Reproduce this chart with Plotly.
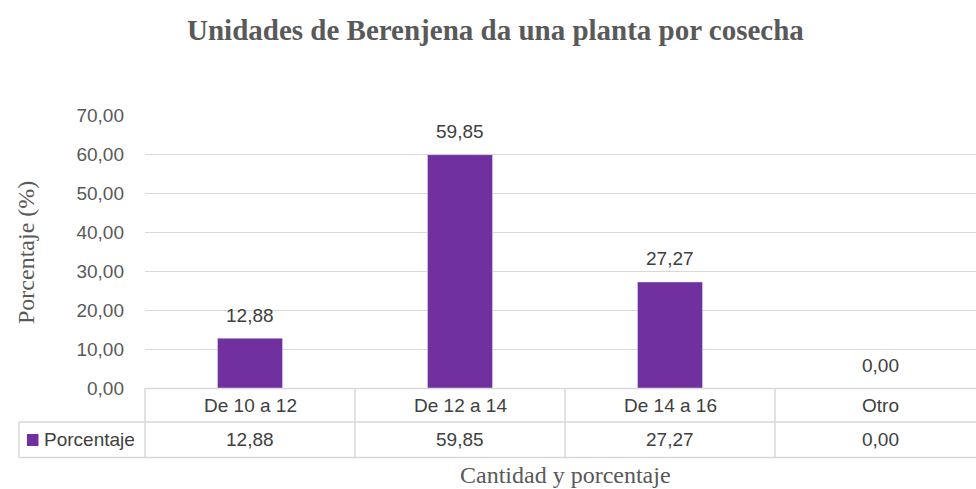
import plotly.graph_objects as go

categories = ["De 10 a 12", "De 12 a 14", "De 14 a 16", "Otro"]
values = [12.88, 59.85, 27.27, 0.00]
series_name = "Porcentaje"
title_text = "Unidades de Berenjena da una planta por cosecha"
y_title = "Porcentaje (%)"
x_title = "Cantidad y porcentaje"

W, H = 976, 489
BAR_COLOR = "#7030A0"
GRID = "#D9D9D9"
TXT = "#595959"
DARK = "#404040"
SANS = "Liberation Sans, Arial, sans-serif"
SERIF = "Liberation Serif, Times New Roman, serif"


def px(x):
    return x / W


def py(y):
    return 1 - y / H


def fmt(v):
    return f"{v:.2f}".replace(".", ",")


left, right, top, bottom = 145, 976, 115, 388.5
cat_w = 210  # category width; the chart runs past the right edge of the window
row1, row2 = 422, 457.5
tleft = 19

fig = go.Figure()
fig.add_trace(go.Bar(
    x=categories, y=values, name=series_name,
    marker_color=BAR_COLOR, width=0.31, showlegend=False,
    hoverinfo="x+y",
))

shapes = []
line = dict(color=GRID, width=1.5)
shapes.append(dict(type="line", xref="paper", yref="paper", x0=px(left), x1=px(right), y0=py(bottom), y1=py(bottom), line=line))
shapes.append(dict(type="line", xref="paper", yref="paper", x0=px(tleft), x1=px(right), y0=py(row1), y1=py(row1), line=line))
shapes.append(dict(type="line", xref="paper", yref="paper", x0=px(tleft), x1=px(right), y0=py(row2), y1=py(row2), line=line))
shapes.append(dict(type="line", xref="paper", yref="paper", x0=px(left), x1=px(left), y0=py(bottom), y1=py(row2), line=line))
shapes.append(dict(type="line", xref="paper", yref="paper", x0=px(tleft), x1=px(tleft), y0=py(row1), y1=py(row2), line=line))
for i in range(1, len(categories)):
    shapes.append(dict(type="line", xref="x", yref="paper", x0=i - 0.5, x1=i - 0.5, y0=py(bottom), y1=py(row2), line=line))
shapes.append(dict(type="rect", xref="paper", yref="paper", x0=px(27), x1=px(38.5), y0=py(446), y1=py(434),
                   fillcolor=BAR_COLOR, line=dict(width=0)))

lab_font = dict(family=SANS, size=19, color=DARK)
annotations = []
for c, v in zip(categories, values):
    annotations.append(dict(x=c, y=v, xref="x", yref="y", text=fmt(v), showarrow=False,
                            yanchor="middle", yshift=23, font=lab_font))
    annotations.append(dict(x=c, y=py((bottom + row1) / 2), xref="x", yref="paper", text=c, showarrow=False,
                            yanchor="middle", font=lab_font))
    annotations.append(dict(x=c, y=py((row1 + row2) / 2), xref="x", yref="paper", text=fmt(v), showarrow=False,
                            yanchor="middle", font=lab_font))
annotations.append(dict(x=px(42), y=py((row1 + row2) / 2), xref="paper", yref="paper", text=series_name,
                        showarrow=False, xanchor="left", yanchor="middle", font=lab_font))
annotations.append(dict(x=px(26), y=py(253), xref="paper", yref="paper", text=y_title, showarrow=False,
                        textangle=-90, xanchor="center", yanchor="middle",
                        font=dict(family=SERIF, size=24, color=TXT)))
annotations.append(dict(x=px(565), y=py(475), xref="paper", yref="paper", text=x_title, showarrow=False,
                        xanchor="center", yanchor="middle",
                        font=dict(family=SERIF, size=24, color=TXT)))
annotations.append(dict(x=px(495), y=py(30), xref="paper", yref="paper", text="<b>" + title_text + "</b>",
                        showarrow=False, xanchor="center", yanchor="middle",
                        font=dict(family=SERIF, size=29, color=TXT)))

fig.update_layout(
    width=W, height=H, autosize=False,
    margin=dict(l=0, r=0, t=0, b=0, autoexpand=False),
    paper_bgcolor="white", plot_bgcolor="white",
    separators=",.",
    shapes=shapes, annotations=annotations,
    xaxis=dict(domain=[px(left), 1], showticklabels=False, showgrid=False, zeroline=False,
               showline=False, ticks="", range=[-0.5, -0.5 + (right - left) / cat_w]),
    yaxis=dict(domain=[py(bottom), py(top)], range=[0, 70], dtick=10, tickformat=".2f",
               showgrid=True, gridcolor=GRID, gridwidth=1.3, zeroline=False, showline=False,
               ticks="", ticklabelstandoff=20,
               tickfont=dict(family=SANS, size=19, color=TXT)),
)

# remove the page's default body margin so the figure sits exactly in the window
fig.write_html("out.html",
               config={"displayModeBar": False},
               post_script="document.body.style.margin='0';document.body.style.overflow='hidden';")
